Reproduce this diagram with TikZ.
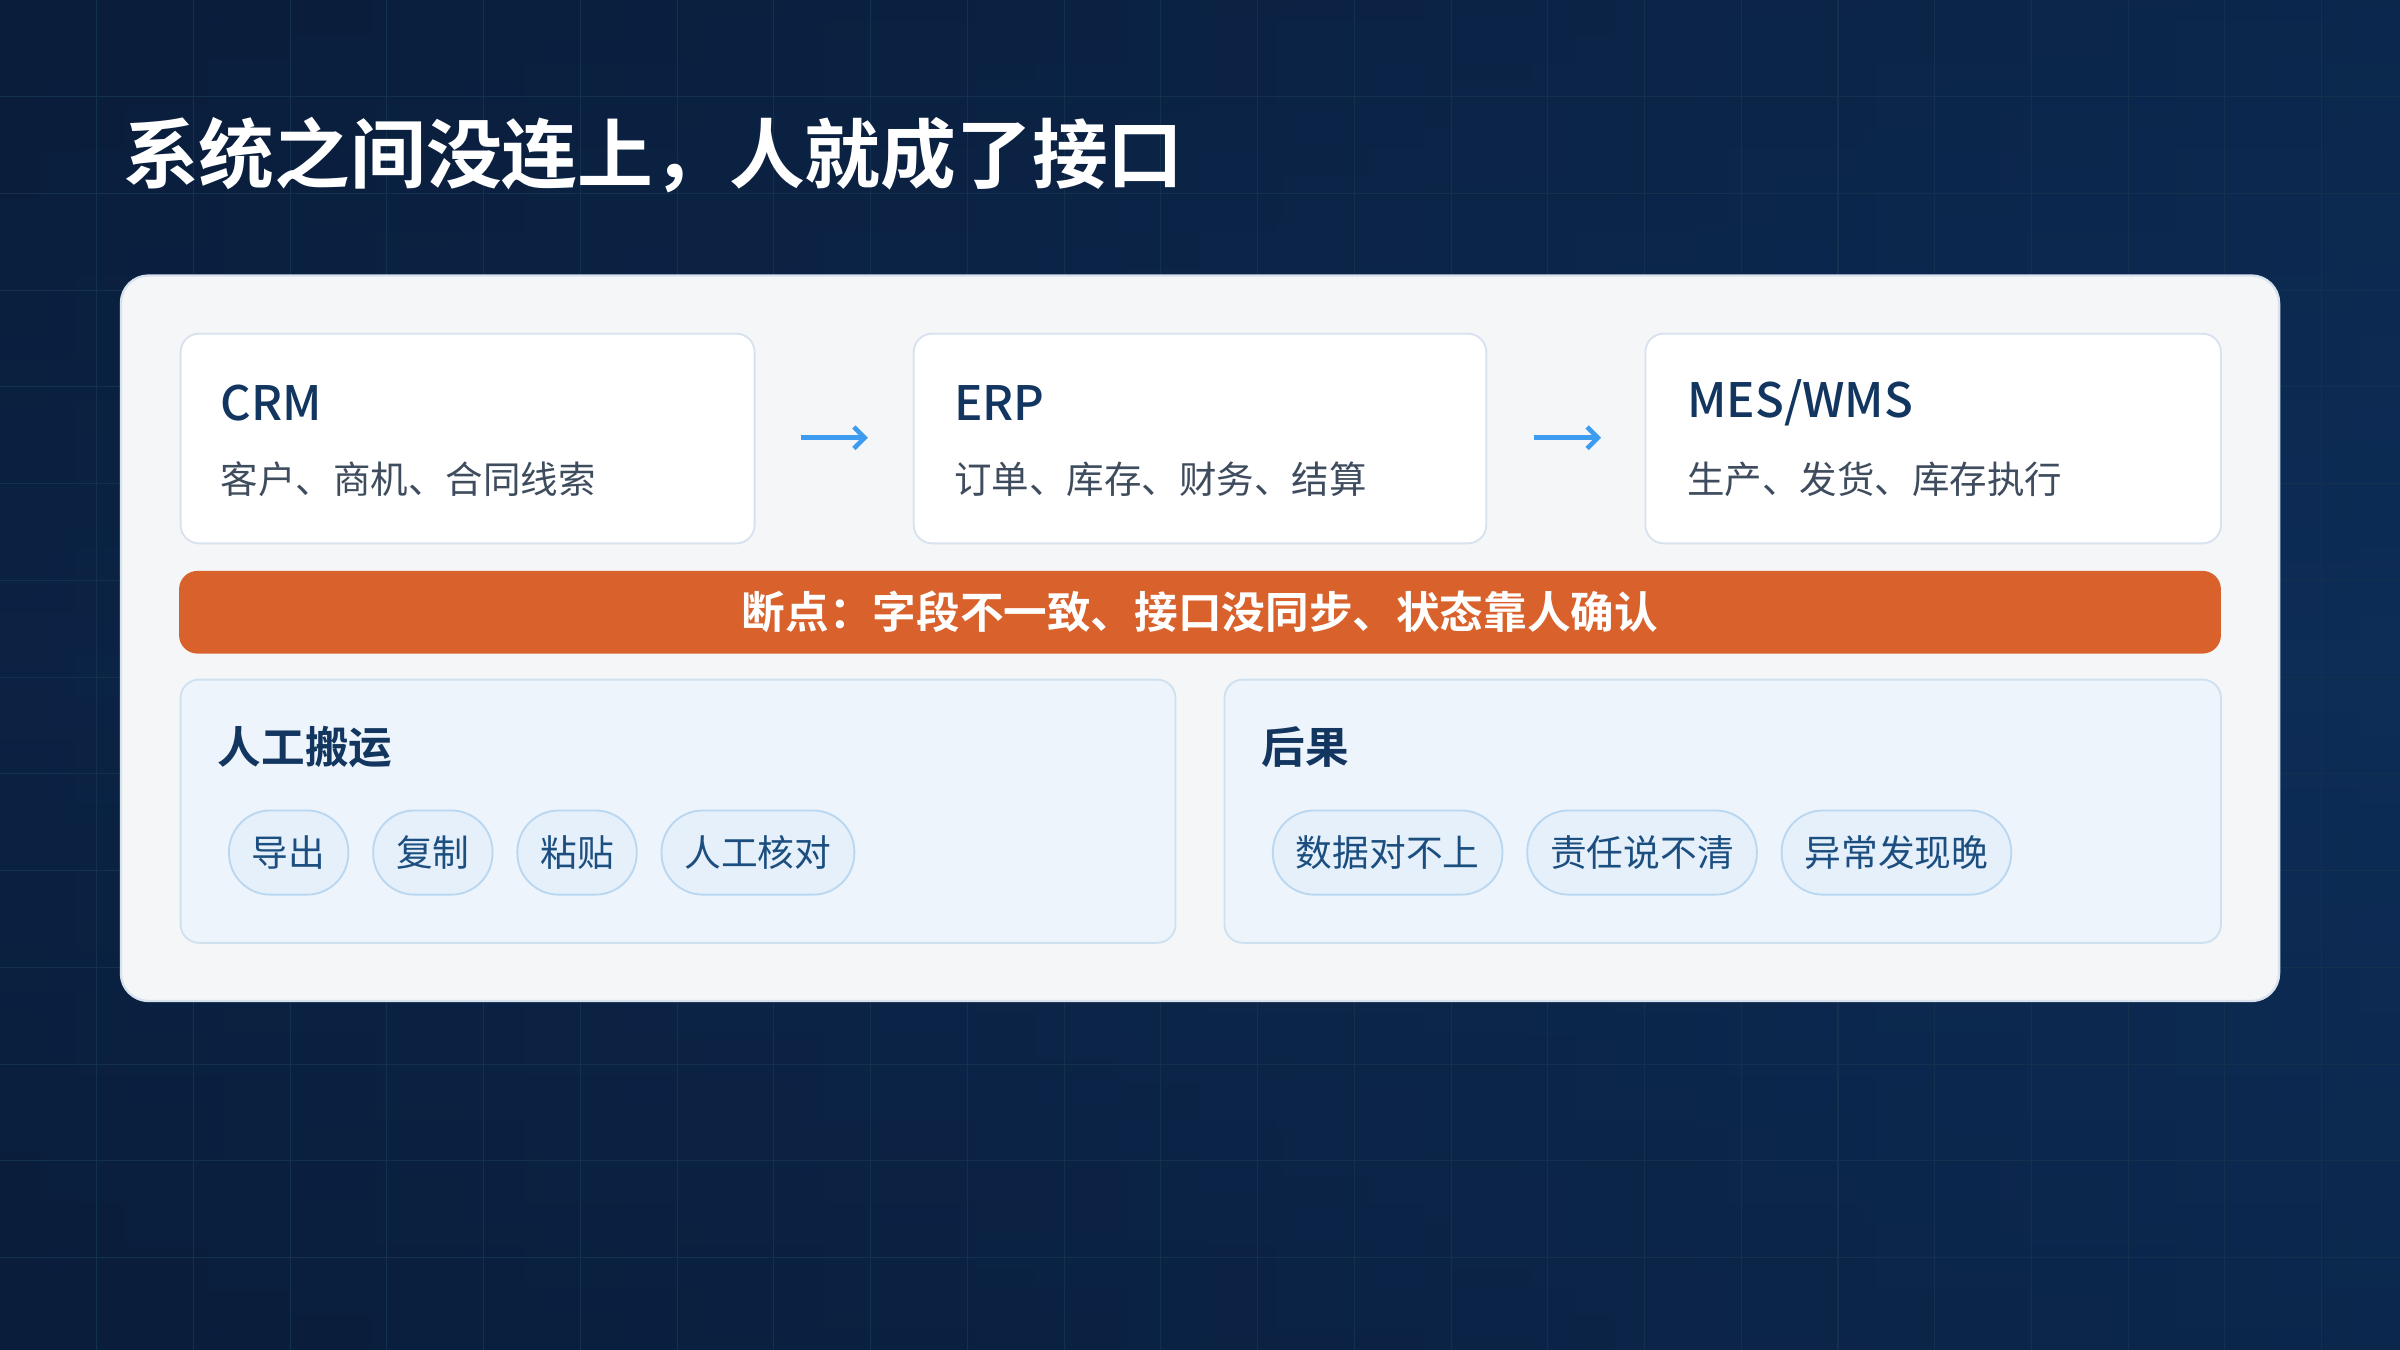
\documentclass[tikz,border=0pt]{standalone}
\usepackage{fontspec}
\setmainfont{Noto Sans CJK SC}
\newfontfamily\cjkbold{Noto Sans CJK SC Bold}
\newfontfamily\cjkmed{Noto Sans CJK SC Medium}
\usetikzlibrary{positioning,arrows.meta}
\definecolor{bgdark}{HTML}{0A1D3A}
\definecolor{bglight}{HTML}{0D2D57}
\definecolor{gridc}{HTML}{13304F}
\definecolor{panelc}{HTML}{F4F6F8}
\definecolor{cardline}{HTML}{D8E2EE}
\definecolor{navy}{HTML}{12365F}
\definecolor{subgray}{HTML}{3E4C5E}
\definecolor{arrowc}{HTML}{3D9BF0}
\definecolor{breakc}{HTML}{D9612C}
\definecolor{lowfill}{HTML}{EDF4FB}
\definecolor{lowline}{HTML}{CFE0EF}
\definecolor{pillfill}{HTML}{E5F0FB}
\definecolor{pillline}{HTML}{B9D7F0}
\definecolor{pilltext}{HTML}{1C4F80}

\tikzset{every picture/.style={line width=0.75pt}}
\tikzset{
  card/.style={draw=cardline, fill=white, rounded corners=12pt, line width=1.2pt},
  cardtitle/.style={anchor=west, inner sep=0pt, text=navy, font=\cjkmed\fontsize{31}{34}\selectfont},
  cardsub/.style={anchor=west, inner sep=0pt, text=subgray, font=\fontsize{24.5}{28}\selectfont},
  flow/.style={draw=arrowc, line width=3pt, -{Straight Barb[length=7pt,width=14pt]}},
  lowbox/.style={draw=lowline, fill=lowfill, rounded corners=12pt, line width=1.2pt},
  lowtitle/.style={anchor=west, inner sep=0pt, text=navy, font=\cjkbold\fontsize{28.5}{31}\selectfont},
  pill/.style={draw=pillline, fill=pillfill, rounded corners=27pt, line width=1.2pt,
    minimum height=55pt, inner xsep=15pt, anchor=west, text=pilltext, font=\fontsize{24}{28}\selectfont}
}

\begin{document}
\begin{tikzpicture}[x=1pt,y=1pt,yscale=-1]
\useasboundingbox (0,0) rectangle (1568,882);

% background
\shade[left color=bgdark, right color=bglight] (0,0) rectangle (1568,882);
\shade[top color=bgdark, bottom color=bgdark, middle color=bglight, opacity=0.35] (0,0) rectangle (1568,882);
\foreach \g in {1,...,24} {
  \draw[gridc, line width=0.7pt] (\g*63.2,0) -- (\g*63.2,882);
}
\foreach \g in {1,...,13} {
  \draw[gridc, line width=0.7pt] (0,\g*63.2) -- (1568,\g*63.2);
}

% title
\node[anchor=west, inner sep=0pt, text=white, font=\cjkbold\fontsize{49.5}{54}\selectfont] (title) at (80,101) {系统之间没连上，人就成了接口};

% panel
\draw[fill=panelc, draw=cardline, rounded corners=18pt, line width=1.5pt] (79,180) rectangle (1489,654);

% systems
\draw[card] (118,218) rectangle (493,355);
\draw[card] (597,218) rectangle (971,355);
\draw[card] (1075,218) rectangle (1451,355);
\node[cardtitle] (crm) at (144,263) {CRM};
\node[cardsub] (crmsub) at (144,313) {客户、商机、合同线索};
\node[cardtitle] (erp) at (623,263) {ERP};
\node[cardsub] (erpsub) at (623,313) {订单、库存、财务、结算};
\node[cardtitle] (mes) at (1102,263) {MES/WMS};
\node[cardsub] (messub) at (1102,313) {生产、发货、库存执行};

\coordinate (a1) at (523,286);
\coordinate (b1) at (567,286);
\coordinate (a2) at (1002,286);
\coordinate (b2) at (1046,286);
\draw[flow] (a1) -- (b1);
\draw[flow] (a2) -- (b2);

% break bar
\draw[fill=breakc, draw=none, rounded corners=12pt] (117,373) rectangle (1451,427);
\node[text=white, inner sep=0pt, font=\cjkbold\fontsize{28.5}{31}\selectfont] (break) at (784,400) {断点：字段不一致、接口没同步、状态靠人确认};

% lower boxes
\draw[lowbox] (118,444) rectangle (768,616);
\draw[lowbox] (800,444) rectangle (1451,616);
\node[lowtitle] (manual) at (142,488) {人工搬运};
\node[lowtitle] (result) at (824,488) {后果};

\node[pill] (p1) at (149,557) {导出};
\node[pill, right=15pt of p1] (p2) {复制};
\node[pill, right=15pt of p2] (p3) {粘贴};
\node[pill, right=15pt of p3] (p4) {人工核对};

\node[pill] (r1) at (831,557) {数据对不上};
\node[pill, right=15pt of r1] (r2) {责任说不清};
\node[pill, right=15pt of r2] (r3) {异常发现晚};
\end{tikzpicture}
\end{document}
